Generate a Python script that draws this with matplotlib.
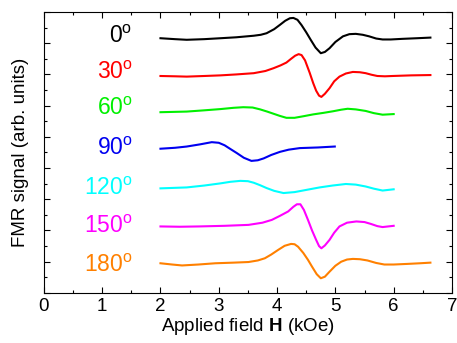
# =====================================================
# FMR SPECTRA VS FIELD ANGLE
# =====================================================

import matplotlib.pyplot as plt
from matplotlib.ticker import MultipleLocator

plt.rcParams["font.family"] = ["Liberation Sans", "DejaVu Sans"]
plt.rcParams["mathtext.fontset"] = "custom"
plt.rcParams["mathtext.rm"] = "Liberation Sans"
plt.rcParams["mathtext.bf"] = "Liberation Sans:bold"

# -----------------------------
# DATA (curves already offset)
# -----------------------------

angles = ["0", "30", "60", "90", "120", "150", "180"]
colors = ["#000000", "#ff0000", "#00f000", "#0000f0", "#00ffff", "#ff00ff", "#ff8000"]
label_y = [8.01, 6.86, 5.71, 4.42, 3.14, 1.92, 0.67]

h_0 = [2.0, 2.25, 2.45, 2.75, 3.03, 3.3, 3.6, 3.72, 3.82, 3.95, 4.05, 4.14, 4.22, 4.28,
       4.35, 4.42, 4.5, 4.58, 4.66, 4.75, 4.82, 4.9, 5.0, 5.13, 5.24, 5.35, 5.47,
       5.58, 5.7, 5.81, 5.95, 6.15, 6.4, 6.63]
s_0 = [8.16, 8.13, 8.11, 8.13, 8.16, 8.19, 8.24, 8.27, 8.32, 8.45, 8.59, 8.72, 8.80, 8.81,
       8.75, 8.58, 8.35, 8.10, 7.86, 7.68, 7.72, 7.84, 8.04, 8.22, 8.29, 8.30, 8.27,
       8.22, 8.15, 8.12, 8.12, 8.14, 8.16, 8.18]

h_30 = [2.0, 2.25, 2.45, 2.75, 3.03, 3.3, 3.6, 3.8, 3.94, 4.06, 4.16, 4.24, 4.31, 4.37,
        4.42, 4.48, 4.56, 4.62, 4.67, 4.72, 4.76, 4.82, 4.9, 4.98, 5.07, 5.18, 5.3,
        5.42, 5.52, 5.62, 5.72, 5.85, 5.98, 6.3, 6.63]
s_30 = [6.95, 6.94, 6.93, 6.95, 6.97, 7.0, 7.04, 7.11, 7.2, 7.29, 7.38, 7.5, 7.6, 7.65,
        7.62, 7.45, 7.05, 6.72, 6.48, 6.32, 6.28, 6.38, 6.56, 6.78, 6.93, 7.03, 7.08,
        7.07, 7.04, 6.99, 6.95, 6.94, 6.95, 6.97, 6.98]

h_60 = [2.0, 2.45, 2.75, 3.03, 3.25, 3.42, 3.58, 3.71, 3.83, 3.94, 4.05, 4.16, 4.3,
        4.45, 4.62, 4.8, 4.96, 5.1, 5.21, 5.35, 5.52, 5.66, 5.81, 6.0]
s_60 = [5.79, 5.81, 5.85, 5.89, 5.93, 5.95, 5.94, 5.88, 5.81, 5.74, 5.67, 5.61, 5.61,
        5.66, 5.72, 5.77, 5.82, 5.87, 5.90, 5.88, 5.83, 5.76, 5.71, 5.73]

h_90 = [2.0, 2.25, 2.45, 2.68, 2.88, 3.0, 3.1, 3.2, 3.31, 3.43, 3.56, 3.67, 3.77, 3.9,
        4.05, 4.2, 4.39, 4.7, 4.99]
s_90 = [4.62, 4.65, 4.69, 4.76, 4.83, 4.81, 4.73, 4.61, 4.48, 4.33, 4.23, 4.25, 4.31,
        4.42, 4.52, 4.59, 4.64, 4.66, 4.69]

h_120 = [2.0, 2.45, 2.75, 3.03, 3.2, 3.37, 3.5, 3.6, 3.71, 3.82, 3.95, 4.11, 4.3,
         4.5, 4.73, 4.95, 5.18, 5.35, 5.52, 5.66, 5.81, 6.0]
s_120 = [3.35, 3.38, 3.44, 3.51, 3.56, 3.59, 3.58, 3.53, 3.45, 3.36, 3.27, 3.20, 3.23,
         3.30, 3.38, 3.44, 3.49, 3.47, 3.41, 3.34, 3.28, 3.32]

h_150 = [2.0, 2.33, 2.66, 3.1, 3.51, 3.75, 3.91, 4.05, 4.19, 4.28, 4.34, 4.4, 4.46,
         4.53, 4.6, 4.67, 4.72, 4.76, 4.82, 4.9, 4.98, 5.07, 5.2, 5.36, 5.5, 5.61,
         5.72, 5.81, 6.0]
s_150 = [2.13, 2.12, 2.13, 2.15, 2.18, 2.25, 2.34, 2.47, 2.61, 2.76, 2.84, 2.84, 2.66,
         2.34, 2.0, 1.70, 1.50, 1.43, 1.52, 1.70, 1.93, 2.13, 2.25, 2.29, 2.27, 2.21,
         2.14, 2.11, 2.15]

h_180 = [2.0, 2.2, 2.37, 2.65, 2.94, 3.25, 3.51, 3.67, 3.79, 3.9, 4.02, 4.13, 4.24,
         4.3, 4.36, 4.45, 4.53, 4.6, 4.68, 4.75, 4.82, 4.9, 5.0, 5.1, 5.2, 5.3, 5.42,
         5.55, 5.7, 5.84, 6.0, 6.24, 6.45, 6.63]
s_180 = [0.95, 0.91, 0.88, 0.91, 0.95, 0.97, 0.99, 1.04, 1.11, 1.23, 1.38, 1.51, 1.57,
         1.56, 1.48, 1.28, 1.06, 0.84, 0.6, 0.47, 0.52, 0.68, 0.87, 1.00, 1.07, 1.09,
         1.08, 1.04, 0.96, 0.91, 0.91, 0.93, 0.95, 0.97]

fields = [h_0, h_30, h_60, h_90, h_120, h_150, h_180]
signals = [s_0, s_30, s_60, s_90, s_120, s_150, s_180]

# -----------------------------
# PLOT
# -----------------------------

fig = plt.figure(figsize=(4.57, 3.43), dpi=100)
ax = fig.add_axes([0.096, 0.146, 0.893, 0.819])

for h, s, c, a, ly in zip(fields, signals, colors, angles, label_y):
    ax.plot(h, s, color=c, linewidth=1.5)
    ax.text(1.52, ly, a + r"$^{\mathrm{o}}$", color=c, fontsize=16.5,
            ha="right", va="baseline")

ax.set_xlim(0, 7)
ax.set_ylim(0, 9)

ax.xaxis.set_major_locator(MultipleLocator(1))
ax.xaxis.set_minor_locator(MultipleLocator(0.5))
ax.yaxis.set_major_locator(MultipleLocator(1))
ax.yaxis.set_minor_locator(MultipleLocator(0.5))

ax.tick_params(which="both", direction="in", top=True, right=True, width=0.8)
ax.tick_params(which="major", length=4, labelsize=13.5)
ax.tick_params(which="minor", length=2)
ax.tick_params(axis="y", labelleft=False)

ax.set_xlabel(r"Applied field $\mathbf{H}$ (kOe)", fontsize=13.5, labelpad=1)
ax.set_ylabel("FMR signal (arb. units)", fontsize=13.5, labelpad=7)

plt.savefig("out.png", dpi=100)
